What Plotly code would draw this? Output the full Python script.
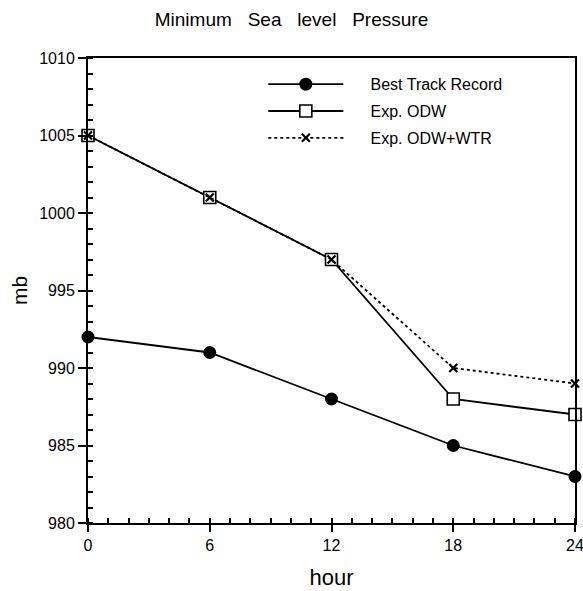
import plotly.graph_objects as go

hours = [0, 6, 12, 18, 24]
best_track = [992, 991, 988, 985, 983]
exp_odw = [1005, 1001, 997, 988, 987]
exp_odw_wtr = [1005, 1001, 997, 990, 989]
series_names = ["Best Track Record", "Exp. ODW", "Exp. ODW+WTR"]
x_ticks = [0, 6, 12, 18, 24]
y_ticks = [980, 985, 990, 995, 1000, 1005, 1010]

FONT = "Liberation Sans, Arial, Helvetica, sans-serif"
PAD = "\u00a0" * 5

fig = go.Figure()
fig.add_trace(go.Scatter(
    x=hours, y=best_track, name=PAD + series_names[0], mode="lines+markers",
    legendgroup="a",
    line=dict(color="black", width=1.8),
    marker=dict(symbol="circle", size=13, color="black"),
    cliponaxis=False))
fig.add_trace(go.Scatter(
    x=hours, y=exp_odw, name=PAD + series_names[1], mode="lines+markers",
    legendgroup="b",
    line=dict(color="black", width=1.8),
    marker=dict(symbol="square", size=12, color="white", line=dict(color="black", width=1.6)),
    cliponaxis=False))
fig.add_trace(go.Scatter(
    x=hours, y=exp_odw_wtr, name=PAD + series_names[2], mode="lines+markers",
    legendgroup="c",
    line=dict(color="black", width=1.8, dash="3px,3px"),
    marker=dict(symbol="x-thin", size=8, color="black", line=dict(color="black", width=2.2)),
    cliponaxis=False))

fig.update_layout(
    width=583, height=591,
    margin=dict(l=88, r=8, t=58, b=68, autoexpand=False),
    paper_bgcolor="white", plot_bgcolor="white",
    font=dict(family=FONT, color="black", size=14),
    title=dict(text="Minimum\u00a0\u00a0 Sea\u00a0\u00a0 level\u00a0\u00a0 Pressure", x=0.5, xref="container",
               xanchor="center", y=0.968, yanchor="middle", font=dict(size=19, family=FONT)),
    showlegend=True,
    legend=dict(x=0.36, y=0.98, xanchor="left", yanchor="top",
                bgcolor="rgba(0,0,0,0)", borderwidth=0,
                font=dict(size=16, family=FONT), itemwidth=75,
                tracegroupgap=3),
)
fig.update_xaxes(
    range=[0, 24], tickvals=x_ticks, ticktext=[str(v) for v in x_ticks],
    automargin=False, ticklabeloverflow="allow",
    showgrid=False, zeroline=False, showline=True, linecolor="black", linewidth=2,
    mirror=True, ticks="outside", ticklen=7, tickwidth=2, tickcolor="black",
    tickfont=dict(size=16),
    minor=dict(dtick=1, ticks="inside", ticklen=5, tickwidth=1.5, tickcolor="black", showgrid=False),
    title=dict(text="hour", font=dict(size=22), standoff=16),
)
fig.update_yaxes(
    range=[980, 1010], tickvals=y_ticks, ticktext=[str(v) for v in y_ticks],
    automargin=False, ticklabeloverflow="allow",
    showgrid=False, zeroline=False, showline=True, linecolor="black", linewidth=2,
    mirror=True, ticks="outside", ticklen=8, tickwidth=2, tickcolor="black",
    tickfont=dict(size=16),
    minor=dict(dtick=1, ticks="inside", ticklen=5, tickwidth=1.5, tickcolor="black", showgrid=False),
    title=dict(text="mb", font=dict(size=21), standoff=6),
)

fig.write_html("out.html", config={"displayModeBar": False},
               post_script="document.body.style.margin='0';document.body.style.overflow='hidden';")
